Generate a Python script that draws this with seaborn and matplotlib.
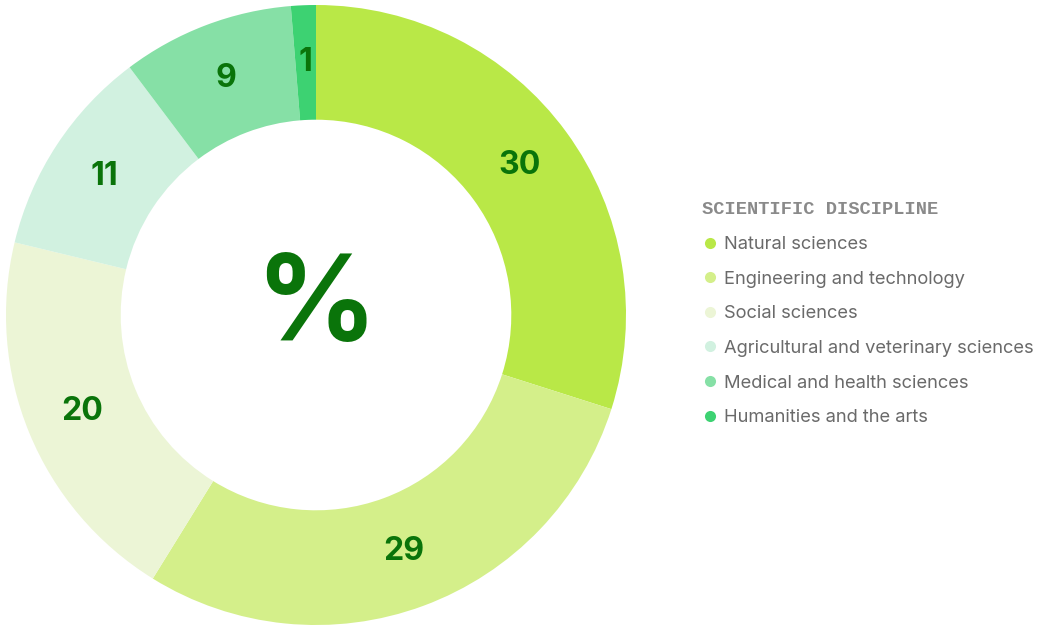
import matplotlib
matplotlib.use("Agg")
import matplotlib.pyplot as plt
import seaborn as sns
import numpy as np
from matplotlib.lines import Line2D

categories = ["Natural sciences", "Engineering and technology", "Social sciences",
              "Agricultural and veterinary sciences", "Medical and health sciences",
              "Humanities and the arts"]
values = [30, 29, 20, 11, 9, 1.3]
labels = ["30", "29", "20", "11", "9", "1"]
colors = ["#b9e847", "#d4ef8a", "#ecf5d6", "#d1f1e0", "#86e0a6", "#3dd272"]
legend_title = "SCIENTIFIC DISCIPLINE"

sns.set_theme(style="white")
plt.rcParams['font.family'] = ['Inter', 'DejaVu Sans']

fig = plt.figure(figsize=(10.38, 6.28), dpi=100)
ax = fig.add_axes([6/1038, 3/628, 620/1038, 620/628])
wedges, _ = ax.pie(values, colors=colors, startangle=90, counterclock=False,
                   radius=1, wedgeprops=dict(width=0.37, linewidth=0))
ax.set_xlim(-1, 1)
ax.set_ylim(-1, 1)
ax.set_aspect("equal")

total = sum(values)
ang = 90.0
for v, lab in zip(values, labels):
    mid = ang - v / total * 360 / 2
    ang -= v / total * 360
    r = 0.815
    ax.text(r * np.cos(np.radians(mid)), r * np.sin(np.radians(mid)), lab,
            ha="center", va="center", fontsize=23, fontweight="bold", color="#0a740a")

ax.text(0, 0.02, "%", ha="center", va="center", fontsize=86, fontweight="bold", color="#0a740a")

handles = [Line2D([], [], marker="o", linestyle="", markersize=8, markerfacecolor=c,
                  markeredgewidth=0) for c in colors]
leg = fig.legend(handles, categories, loc="upper left",
                 bbox_to_anchor=(685/1038, 1 - 185/628), frameon=False,
                 title=legend_title, fontsize=13.2, labelspacing=0.96,
                 handletextpad=0.3, handlelength=0.9, alignment="left")
for t in leg.get_texts():
    t.set_color("#6a6a6a")
leg.get_title().set_fontfamily(["Liberation Mono", "DejaVu Sans Mono"])
leg.get_title().set_fontweight("bold")
leg.get_title().set_color("#8a8a8a")
leg.get_title().set_fontsize(13.5)

fig.savefig("out.png", dpi=100, facecolor="white")
